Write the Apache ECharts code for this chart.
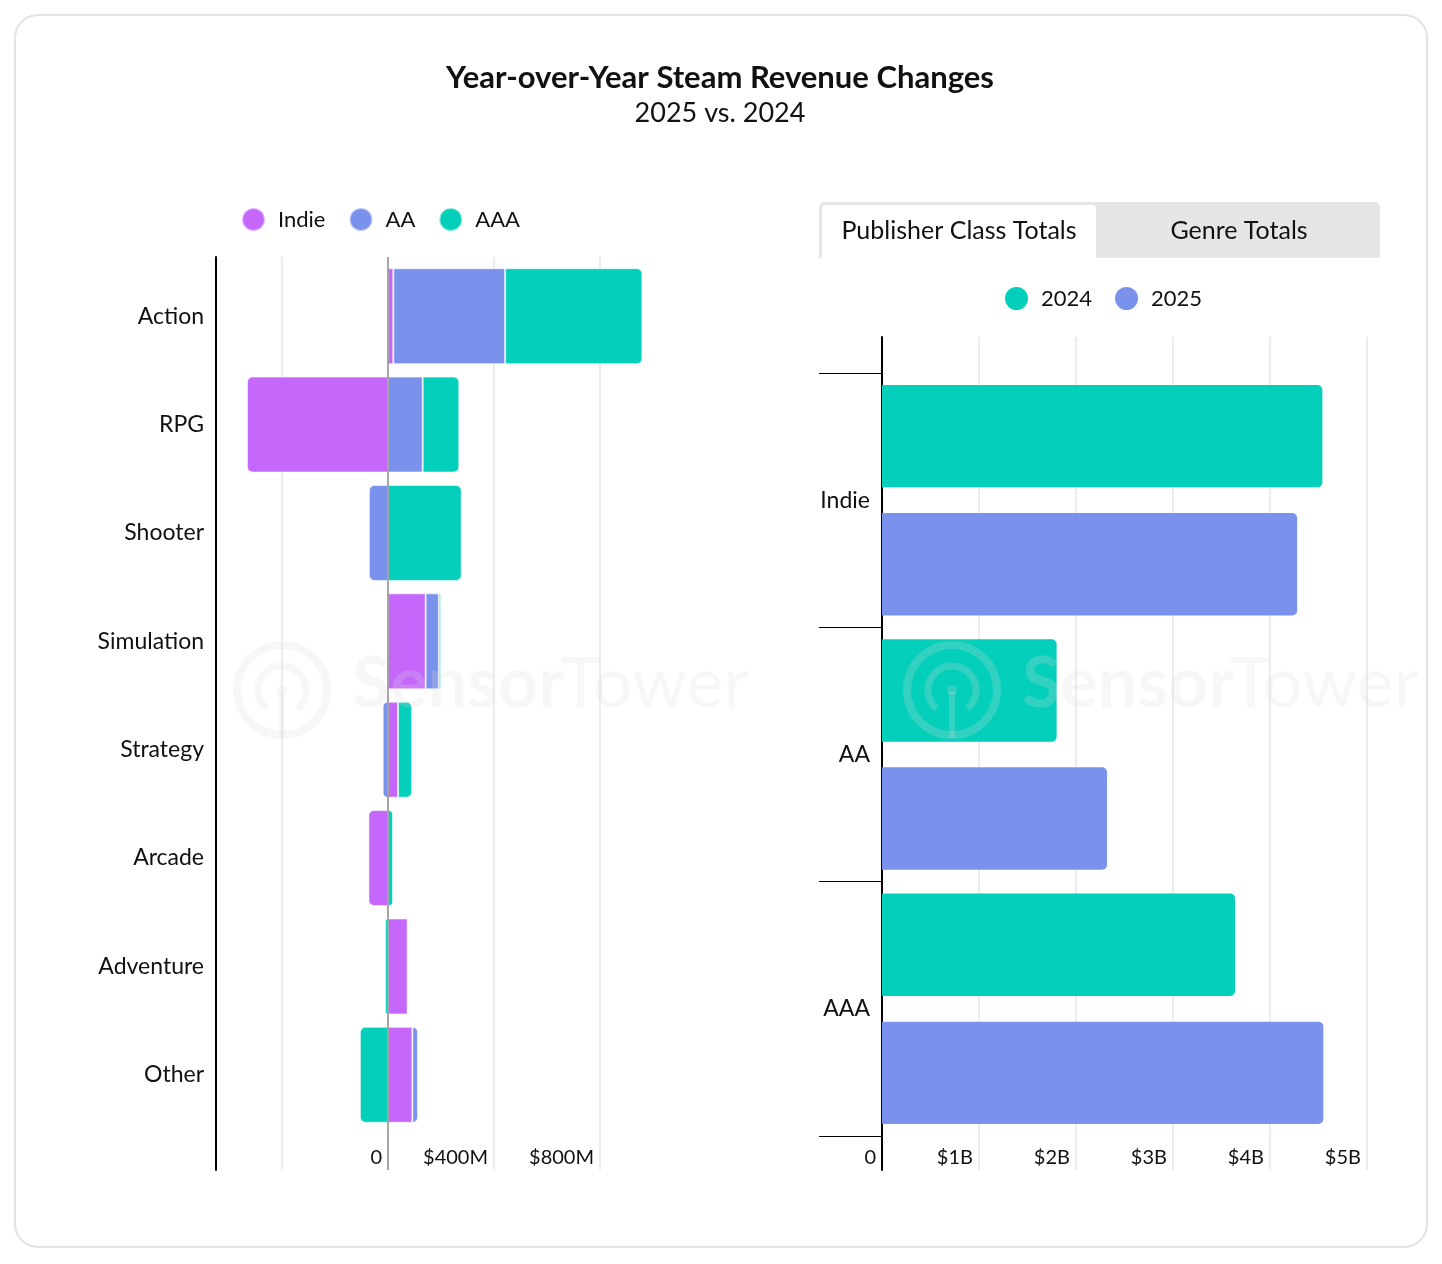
<!DOCTYPE html>
<html><head><meta charset="utf-8">
<script src="https://cdn.jsdelivr.net/npm/echarts@6/dist/echarts.min.js"></script>
<style>
html,body{margin:0;padding:0;background:#fff;}
#card{position:absolute;left:14px;top:14px;width:1410px;height:1230px;border:2px solid #e3e3e3;border-radius:24px;}
#chart{position:absolute;left:0;top:0;width:1442px;height:1264px;}
</style></head><body>
<div id="card"></div><div id="chart"></div>
<script>
// ---- data ----
const genres = ['Action','RPG','Shooter','Simulation','Strategy','Arcade','Adventure','Other'];
const indieChange = [20, -532, 0, 142, 38, -74, 74, 92];     // $M
const aaChange    = [422, 131, -72, 50, -20, 0, 4, 21];      // $M
const aaaChange   = [518, 138, 278, 8, 53, 19, -11, -106];   // $M
const classes = ['Indie','AA','AAA'];
const total2024 = [4.54, 1.80, 3.64];  // $B
const total2025 = [4.28, 2.32, 4.55];  // $B
const leftTickLabels = {0:'0', 400:'$400M', 800:'$800M'};
const rightTickLabels = {0:'0', 1:'$1B', 2:'$2B', 3:'$3B', 4:'$4B', 5:'$5B'};

const C_INDIE = '#c567fa', C_AA = '#7b92ed', C_AAA = '#04cfba';
const FONT = 'Lato';
const chart = echarts.init(document.getElementById('chart'));

const stacks = [indieChange, aaChange, aaaChange];
function stackData(si){
  return stacks[si].map((v, ci) => {
    let outer = v !== 0;
    for (let s = si + 1; s < 3; s++) { const w = stacks[s][ci]; if (w && Math.sign(w) === Math.sign(v)) outer = false; }
    const r = outer ? 5 : 0;
    return { value: v, itemStyle: { borderRadius: v > 0 ? [0, r, r, 0] : [r, 0, 0, r] } };
  });
}

function watermark(dx){
  const col = 'rgba(220,220,220,0.22)';
  return {
    type: 'group', z: 100, silent: true, x: dx, y: 0,
    children: [
      { type: 'circle', z: 100, shape: { cx: 282, cy: 690, r: 45 }, style: { fill: 'none', stroke: col, lineWidth: 8 } },
      { type: 'arc', z: 100, shape: { cx: 282, cy: 690, r: 24, startAngle: Math.PI * 0.72, endAngle: Math.PI * 2.28, clockwise: true }, style: { fill: 'none', stroke: col, lineWidth: 7 } },
      { type: 'circle', z: 100, shape: { cx: 282, cy: 690, r: 5 }, style: { fill: col } },
      { type: 'rect', z: 100, shape: { x: 279, y: 692, width: 6, height: 46 }, style: { fill: col } },
      { type: 'text', z: 100, x: 352, y: 719, style: { text: 'Sensor', font: 'bold 70px ' + FONT, fill: col, align: 'left', textAlign: 'left', verticalAlign: 'bottom', textVerticalAlign: 'bottom' } },
      { type: 'text', z: 100, x: 560, y: 719, style: { text: 'Tower', font: '70px ' + FONT, fill: col, align: 'left', textAlign: 'left', verticalAlign: 'bottom', textVerticalAlign: 'bottom' } }
    ]
  };
}

function centerText(txt, x, y, font, fill){
  return { type: 'text', x, y, silent: true, style: { text: txt, font, fill: fill || '#111', align: 'center', textAlign: 'center', verticalAlign: 'middle', textVerticalAlign: 'middle' } };
}

const labelStyle = { fontFamily: FONT, fontSize: 23, color: '#111' };

const option = {
  animation: false,
  textStyle: { fontFamily: FONT },
  grid: [
    { left: 176, right: 1442 - 706, top: 257, bottom: 1264 - 1170 },  // 0 left background
    { left: 176, right: 1442 - 706, top: 262, bottom: 1264 - 1129 },  // 1 left bars
    { left: 882, right: 1442 - 1367, top: 337, bottom: 1264 - 1170 }, // 2 right background
    { left: 882, right: 1442 - 1367, top: 373, bottom: 1264 - 1136 }  // 3 right bars
  ],
  xAxis: [
    { gridIndex: 0, type: 'value', min: -800, max: 1200, interval: 400,
      axisLine: { show: false }, axisTick: { show: false },
      splitLine: { show: true, showMinLine: false, showMaxLine: false, lineStyle: { color: '#e6e6e6', width: 1.5 } },
      axisLabel: { inside: true, margin: 2, align: 'right', padding: [0, 6, 0, 0], fontFamily: FONT, fontSize: 20, color: '#111',
        formatter: v => leftTickLabels[v] !== undefined ? leftTickLabels[v] : '' } },
    { gridIndex: 1, type: 'value', min: -800, max: 1200, show: false },
    { gridIndex: 2, type: 'value', min: 0, max: 5, interval: 1,
      axisLine: { show: false }, axisTick: { show: false },
      splitLine: { show: true, showMinLine: false, showMaxLine: true, lineStyle: { color: '#e6e6e6', width: 1.5 } },
      axisLabel: { inside: true, margin: 2, align: 'right', padding: [0, 6, 0, 0], fontFamily: FONT, fontSize: 20, color: '#111',
        formatter: v => rightTickLabels[v] !== undefined ? rightTickLabels[v] : '' } },
    { gridIndex: 3, type: 'value', min: 0, max: 5, show: false }
  ],
  yAxis: [
    { gridIndex: 0, type: 'value', min: 0, max: 1, offset: -40,
      axisLine: { show: true, onZero: false, lineStyle: { color: '#000', width: 2 } },
      axisTick: { show: false }, axisLabel: { show: false }, splitLine: { show: false } },
    { gridIndex: 1, type: 'category', data: genres, inverse: true, offset: -40,
      axisLine: { show: false, onZero: false }, axisTick: { show: false },
      axisLabel: Object.assign({ margin: 12 }, labelStyle) },
    { gridIndex: 2, type: 'value', min: 0, max: 1,
      axisLine: { show: true, onZero: false, lineStyle: { color: '#000', width: 2 } },
      axisTick: { show: false }, axisLabel: { show: false }, splitLine: { show: false } },
    { gridIndex: 3, type: 'category', data: classes, inverse: true,
      axisLine: { show: false, onZero: false },
      axisTick: { show: true, length: 63, alignWithLabel: false, lineStyle: { color: '#000', width: 1.2 } },
      axisLabel: Object.assign({ margin: 12 }, labelStyle) }
  ],
  legend: [
    { data: ['Indie','AA','AAA'], left: 241, top: 207, padding: 0, itemWidth: 23, itemHeight: 23, itemGap: 23, icon: 'circle',
      textStyle: { fontFamily: FONT, fontSize: 22, color: '#111', padding: [0, 0, 0, 8] } },
    { data: ['2024','2025'], left: 1005, top: 287, padding: 0, itemWidth: 23, itemHeight: 23, itemGap: 23, icon: 'circle',
      textStyle: { fontFamily: FONT, fontSize: 22, color: '#111', padding: [0, 0, 0, 8] } }
  ],
  series: [
    { name: 'Indie', type: 'bar', stack: 'chg', xAxisIndex: 1, yAxisIndex: 1, barCategoryGap: '11.5%',
      itemStyle: { color: C_INDIE, borderColor: 'rgba(255,255,255,0.55)', borderWidth: 1 }, data: stackData(0) },
    { name: 'AA', type: 'bar', stack: 'chg', xAxisIndex: 1, yAxisIndex: 1, barCategoryGap: '11.5%',
      itemStyle: { color: C_AA, borderColor: 'rgba(255,255,255,0.55)', borderWidth: 1 }, data: stackData(1) },
    { name: 'AAA', type: 'bar', stack: 'chg', xAxisIndex: 1, yAxisIndex: 1, barCategoryGap: '11.5%',
      itemStyle: { color: C_AAA, borderColor: 'rgba(255,255,255,0.55)', borderWidth: 1 }, data: stackData(2) },
    { name: 'zero', type: 'line', xAxisIndex: 0, yAxisIndex: 0, data: [], z: 10,
      markLine: { silent: true, symbol: ['none','none'], label: { show: false },
        lineStyle: { color: '#8f8f8f', width: 1.5, type: 'solid' }, data: [{ xAxis: 0 }] } },
    { name: '2024', type: 'bar', xAxisIndex: 3, yAxisIndex: 3, barGap: '25%', barCategoryGap: '9.4%',
      itemStyle: { color: C_AAA, borderRadius: [0, 5, 5, 0] }, data: total2024 },
    { name: '2025', type: 'bar', xAxisIndex: 3, yAxisIndex: 3, barGap: '25%', barCategoryGap: '9.4%',
      itemStyle: { color: C_AA, borderRadius: [0, 5, 5, 0] }, data: total2025 }
  ],
  graphic: [
    centerText('Year-over-Year Steam Revenue Changes', 720, 78, 'bold 31px ' + FONT),
    centerText('2025 vs. 2024', 720, 113, '27px ' + FONT),
    { type: 'rect', silent: true, shape: { x: 819, y: 202, width: 561, height: 56, r: [5, 5, 0, 0] }, style: { fill: '#e6e6e6' } },
    { type: 'rect', silent: true, shape: { x: 822, y: 205, width: 274, height: 53, r: [4, 4, 0, 0] }, style: { fill: '#ffffff' } },
    centerText('Publisher Class Totals', 959, 231, '25px ' + FONT),
    centerText('Genre Totals', 1239, 231, '25px ' + FONT),
    watermark(0),
    watermark(670)
  ]
};
chart.setOption(option);
</script>
</body></html>
